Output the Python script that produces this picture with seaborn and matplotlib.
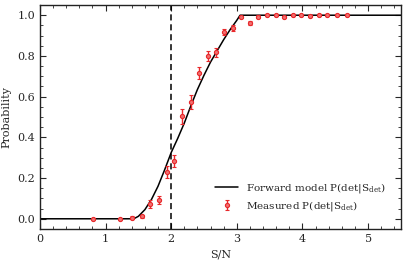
import numpy as np
import pandas as pd
import seaborn as sns
import matplotlib
matplotlib.use("Agg")
import matplotlib.pyplot as plt
from matplotlib.ticker import MultipleLocator

# datos
sn_med = [0.81, 1.22, 1.40, 1.55, 1.68, 1.81, 1.93, 2.05, 2.17, 2.30, 2.43, 2.56,
          2.69, 2.81, 2.94, 3.07, 3.20, 3.33, 3.46, 3.59, 3.72, 3.86, 3.98, 4.12,
          4.25, 4.38, 4.52, 4.68]
p_med = [0.0, 0.0, 0.006, 0.012, 0.071, 0.091, 0.229, 0.284, 0.503, 0.573, 0.718, 0.798,
         0.817, 0.917, 0.939, 0.992, 0.964, 0.993, 1.0, 1.0, 0.99, 1.0, 1.0, 0.995,
         1.0, 1.0, 1.0, 1.0]
err_med = [0.004, 0.004, 0.006, 0.008, 0.02, 0.02, 0.03, 0.03, 0.035, 0.033, 0.03, 0.025,
           0.022, 0.015, 0.015, 0.006, 0.01, 0.006, 0.004, 0.004, 0.005, 0.004, 0.004, 0.004,
           0.004, 0.004, 0.004, 0.004]

sn_modelo = [0.0, 1.43, 1.5, 1.6, 1.7, 1.8, 1.9, 2.0, 2.1, 2.2, 2.3, 2.4, 2.5, 2.6,
             2.7, 2.8, 2.9, 3.0, 3.05, 5.5]
p_modelo = [0.0, 0.0, 0.012, 0.045, 0.095, 0.16, 0.24, 0.325, 0.395, 0.47, 0.555, 0.635,
            0.705, 0.77, 0.825, 0.88, 0.93, 0.975, 1.0, 1.0]

corte = 2.0

sns.set_style("ticks")
plt.rcParams["font.family"] = ["DejaVu Serif"]
plt.rcParams["mathtext.fontset"] = "dejavuserif"
plt.rcParams["font.size"] = 8

df_modelo = pd.DataFrame({"sn": sn_modelo, "p": p_modelo})

fig = plt.figure(figsize=(4.07, 2.65), dpi=100)
ax = fig.add_axes([0.098, 0.136, 0.887, 0.845])

sns.lineplot(data=df_modelo, x="sn", y="p", color="black", lw=1.1, ax=ax,
             label=r"Forward model P(det|S$_{\rm det}$)")
ax.errorbar(sn_med, p_med, yerr=err_med, fmt="o", ms=3, color="#e8282b",
            mfc="#f07070", mec="#e8282b", mew=0.8, elinewidth=1, capsize=1.5,
            label=r"Measured P(det|S$_{\rm det}$)")
ax.axvline(corte, color="black", ls=(0, (4, 2.5)), lw=1.1)

ax.set_xlim(0, 5.5)
ax.set_ylim(-0.05, 1.05)
ax.set_xlabel("S/N", fontsize=8)
ax.set_ylabel("Probability", fontsize=8)

ax.xaxis.set_major_locator(MultipleLocator(1))
ax.xaxis.set_minor_locator(MultipleLocator(0.2))
ax.yaxis.set_major_locator(MultipleLocator(0.2))
ax.yaxis.set_minor_locator(MultipleLocator(0.05))
ax.yaxis.set_major_formatter(plt.FormatStrFormatter("%.1f"))
ax.tick_params(which="both", direction="in", top=True, right=True, labelsize=8)
ax.tick_params(which="major", length=4, width=0.8)
ax.tick_params(which="minor", length=2, width=0.6)
for s in ax.spines.values():
    s.set_linewidth(1)
    s.set_color("#222222")

ax.legend(loc="lower left", bbox_to_anchor=(0.46, 0.03), frameon=False,
          handlelength=2.2, handletextpad=0.7, fontsize=7.5, labelspacing=0.4)

fig.savefig("out.png", dpi=100)
